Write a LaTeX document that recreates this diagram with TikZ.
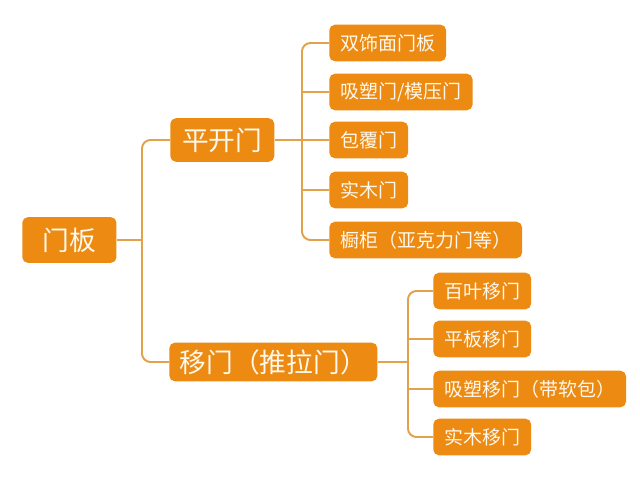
\documentclass[tikz,border=0pt]{standalone}
\usepackage{fontspec}
\setmainfont{Noto Sans CJK SC}
\usetikzlibrary{positioning}
\definecolor{mbfill}{HTML}{EC8A12}
\definecolor{mbline}{HTML}{E2A24C}
\definecolor{mbtext}{HTML}{FFF8EC}
\tikzstyle{mbleaf}=[fill=mbfill,text=mbtext,rounded corners=4pt,anchor=west,
  inner xsep=7.8pt,inner ysep=0pt,minimum height=26pt,font=\fontsize{13.5}{14}\selectfont]
\tikzstyle{mbmid}=[mbleaf,inner xsep=8.5pt,minimum height=30pt,font=\fontsize{19}{20}\selectfont]
\tikzstyle{mblink}=[draw=mbline,line width=1.4pt,rounded corners=6pt]

\begin{document}
\begin{tikzpicture}[x=0.025cm,y=-0.025cm]
    \useasboundingbox (0,0) rectangle (640,480);
    % root and the two kinds
    \node[mbmid,inner xsep=14.5pt,minimum height=32.5pt] (root) at (22,240) {门板};
    \node[mbmid,minimum height=31pt] (pk) at (170,140) {平开门};
    \node[mbmid,inner xsep=7.5pt,minimum height=27.5pt] (ym) at (169,362) {移门（推拉门）};
    % swing doors
    \node[mbleaf] (pk1) at (329,43) {双饰面门板};
    \node[mbleaf] (pk2) at (329,92) {吸塑门/模压门};
    \node[mbleaf] (pk3) at (329,140) {包覆门};
    \node[mbleaf] (pk4) at (329,190) {实木门};
    \node[mbleaf] (pk5) at (329,240) {橱柜（亚克力门等）};
    % sliding doors
    \node[mbleaf] (ym1) at (433,291) {百叶移门};
    \node[mbleaf] (ym2) at (433,339) {平板移门};
    \node[mbleaf] (ym3) at (433,389) {吸塑移门（带软包）};
    \node[mbleaf] (ym4) at (433,437) {实木移门};
    % connectors
    \coordinate (rj) at (142,240);
    \coordinate (pj) at (302,140);
    \coordinate (yj) at (408,362);
    \draw[mblink] (root.east) -- (rj);
    \draw[mblink] (pk.west) -| (rj) |- (ym.west);
    \draw[mblink] (pk.east) -- (pk3.west);
    \draw[mblink] (pk1.west) -| (pj) |- (pk5.west);
    \foreach \c in {pk2,pk4} {\draw[mblink] (pj |- \c.west) -- (\c.west);}
    \draw[mblink] (ym.east) -- (yj);
    \draw[mblink] (ym1.west) -| (yj) |- (ym4.west);
    \foreach \c in {ym2,ym3} {\draw[mblink] (yj |- \c.west) -- (\c.west);}
  \end{tikzpicture}
\end{document}
